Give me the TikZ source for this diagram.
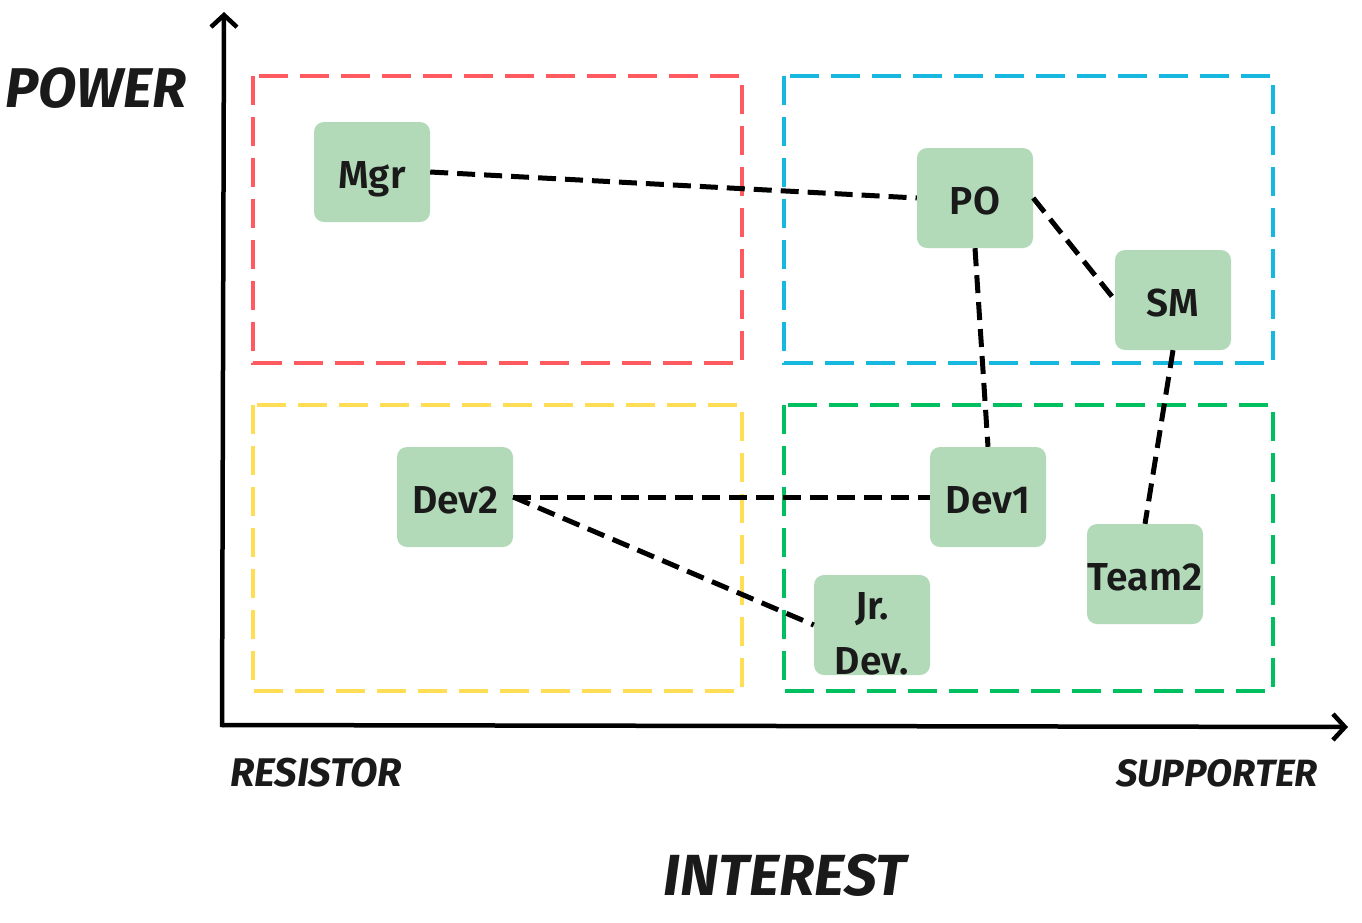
\documentclass[tikz,border=0pt]{standalone}
\usepackage{fontspec}
\setmainfont{Fira Sans}
\newfontfamily\nodefont{Fira Sans SemiBold}
\usetikzlibrary{arrows.meta}
\definecolor{nodefill}{HTML}{B2DAB8}
\definecolor{qred}{HTML}{FF5A5F}
\definecolor{qblue}{HTML}{17B8E0}
\definecolor{qyellow}{HTML}{FFDD55}
\definecolor{qgreen}{HTML}{00BF5F}
\definecolor{ink}{HTML}{1A1A1A}
\begin{document}
\begin{tikzpicture}[x=1pt,y=-1pt,
  quad/.style={line width=4.5pt,dash pattern=on 29pt off 12pt},
  person/.style={fill=nodefill,rounded corners=10pt,minimum width=116pt,minimum height=100pt,inner sep=0pt,text=ink,text height=33pt,text depth=0pt,font=\nodefont\fontsize{39}{45}\selectfont},
  link/.style={line width=5pt,dash pattern=on 18pt off 9pt},
  axis/.style={line width=4.5pt,-{Straight Barb[length=12pt,width=26pt,line width=4.5pt]}},
  title/.style={text=ink,font=\fontsize{#1}{#1}\selectfont\bfseries\itshape,inner sep=0pt},
]
\useasboundingbox (0,0) rectangle (1362,922);
% quadrants
\draw[quad,qred] (253,76) rectangle (742,363);
\draw[quad,qblue] (784,76) rectangle (1273,363);
\draw[quad,qyellow] (253,405) rectangle (742,691);
\draw[quad,qgreen] (784,405) rectangle (1273,691);
% axes
\coordinate (ytop) at (224,12);
\coordinate (xend) at (1348,727);
\draw[axis] (222,727) -- (ytop);
\draw[axis] (222,725) -- (xend);
% nodes
\node[person] (mgr) at (372,172) {Mgr};
\node[person] (po) at (975,198) {PO};
\node[person] (sm) at (1173,300) {SM};
\node[person] (dev2) at (455,497) {Dev2};
\node[person] (dev1) at (988,497) {Dev1};
\node[person] (jr) at (872,625) {};
\node[text=ink,font=\nodefont\fontsize{39}{55}\selectfont,align=center,inner sep=0pt] (jrtext) at (872,634) {Jr.\\Dev.};
\node[person] (team2) at (1145,574) {Team2};
% links
\draw[link] (mgr.east) -- (po.west);
\draw[link] (po.east) -- (sm.west);
\draw[link] (po.south) -- (dev1.north);
\draw[link] (sm.south) -- (team2.north);
\draw[link] (dev2.east) -- (dev1.west);
\draw[link] (dev2.east) -- (jr.west);
% titles
\node[title=56,anchor=west] (power) at (5,88) {POWER};
\node[title=40,anchor=west] (resistor) at (230,773) {RESISTOR};
\node[title=38,anchor=east] (supporter) at (1318,773) {SUPPORTER};
\node[title=58] (interest) at (785,875) {INTEREST};
\end{tikzpicture}
\end{document}
